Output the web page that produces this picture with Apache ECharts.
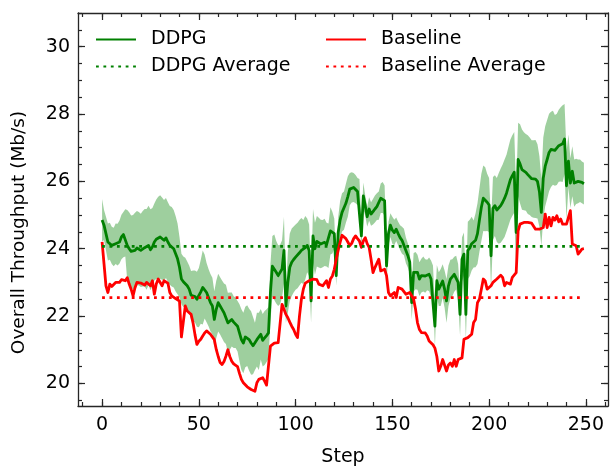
<!DOCTYPE html>
<html><head><meta charset="utf-8">
<script src="https://cdn.jsdelivr.net/npm/echarts@6/dist/echarts.min.js"></script>
<style>html,body{margin:0;padding:0;background:#fff}#c{width:610px;height:472px}</style>
</head><body><div id="c"></div>
<script>
// DDPG mean throughput per step (0..249)
const ddpg = [
24.85,24.7,24.45,24.2,24.22,24.1,24.05,24.15,24.12,24.2,
24.35,24.42,24.47,24.1,24.0,23.92,23.9,23.95,24.02,24.0,
23.95,24.0,24.03,23.98,24.1,23.97,24.05,24.2,24.28,24.32,
24.35,24.3,24.25,24.32,24.2,24.1,24.06,24.0,23.85,23.7,
23.45,23.1,23.02,23.0,22.9,22.8,22.62,22.6,22.58,22.5,
22.55,22.72,22.85,22.88,22.7,22.55,22.4,22.3,21.9,22.2,
22.4,22.3,22.2,22.1,22.05,21.8,21.85,21.9,21.82,21.8,
21.7,21.5,21.3,21.2,21.38,21.42,21.3,21.2,21.12,21.1,
21.3,21.25,21.46,21.28,21.35,21.42,21.5,22.7,23.48,23.45,
23.3,23.2,23.24,23.4,23.95,22.3,23.0,23.45,23.6,23.68,
23.75,23.8,23.88,23.95,23.9,24.03,24.1,23.95,22.45,24.38,
24.0,24.22,24.18,24.14,24.15,24.19,24.12,24.09,24.53,24.48,
24.45,23.2,24.48,24.85,25.08,25.13,25.35,25.55,25.77,25.82,
25.82,25.77,25.7,25.67,24.38,25.57,25.28,24.95,25.18,25.03,
25.1,25.18,25.25,25.28,25.5,25.52,25.43,23.49,24.45,24.7,
24.55,24.48,24.58,24.45,24.33,24.25,24.2,23.95,23.8,23.6,
22.4,23.3,23.35,23.3,23.1,23.2,23.25,23.19,23.22,23.24,
23.1,23.05,21.7,23.05,22.8,22.85,23.04,22.8,22.45,22.9,
23.1,23.14,23.24,23.29,23.0,22.05,23.69,23.84,22.05,23.95,
24.02,24.15,24.14,24.25,24.45,24.85,25.23,25.5,25.47,25.38,
25.3,23.79,25.2,25.28,25.15,25.2,25.28,25.38,25.5,25.65,
25.85,26.05,26.17,26.27,24.48,26.65,26.52,26.35,26.3,26.27,
26.2,26.15,26.08,26.07,26.07,26.0,25.7,25.08,26.1,26.45,
26.65,26.86,26.95,27.0,26.92,26.95,27.06,27.1,27.12,27.26,
25.87,26.6,25.95,26.3,25.95,26.0,26.0,26.02,25.97,25.93
];
// DDPG spread (half-width of shaded band) per step
const ddpgStd = [
0.63,0.45,0.5,0.55,0.55,0.55,0.57,0.6,0.62,0.64,
0.66,0.67,0.7,1.05,1.08,1.07,1.1,1.12,1.1,1.09,
1.09,1.12,1.15,1.2,1.18,1.2,1.16,1.14,1.18,1.22,
1.24,1.22,1.2,1.19,1.18,1.17,1.18,1.15,1.12,1.05,
0.9,0.75,0.75,0.73,0.72,0.7,0.72,0.75,0.77,0.82,
0.88,0.95,1.1,0.95,0.88,0.85,0.85,0.84,0.84,0.85,
0.86,0.85,0.86,0.87,0.88,0.89,0.85,0.8,0.77,0.75,
0.75,0.85,0.9,0.9,0.9,0.9,0.92,0.94,0.85,0.7,
0.8,0.85,0.75,0.78,0.8,0.78,0.77,0.85,0.9,0.97,
0.93,0.9,0.88,0.85,1.0,0.5,0.9,1.0,1.0,0.98,
0.97,0.97,0.97,0.96,0.95,0.94,0.8,0.77,0.65,0.8,
0.77,0.75,0.74,0.72,0.7,0.7,0.65,0.66,0.7,0.62,
0.45,0.3,0.45,0.57,0.57,0.57,0.58,0.6,0.48,0.45,
0.43,0.42,0.4,0.4,0.4,0.4,0.3,0.3,0.35,0.35,
0.38,0.4,0.4,0.42,0.44,0.46,0.45,0.6,0.35,0.35,
0.4,0.38,0.35,0.35,0.37,0.4,0.39,0.38,0.36,0.35,
0.5,0.57,0.55,0.52,0.5,0.5,0.52,0.5,0.45,0.5,
0.55,0.45,0.6,0.47,0.5,0.55,0.5,0.55,0.65,0.6,
0.57,0.55,0.52,0.5,0.55,0.64,0.65,0.64,0.75,0.85,
0.84,0.8,0.7,0.8,0.9,0.94,1.0,0.97,0.95,0.85,
0.8,1.0,0.93,0.9,0.95,1.05,1.1,1.12,1.15,1.14,
1.17,1.19,1.2,1.2,1.2,1.09,1.18,1.19,1.16,1.14,
1.17,1.15,1.14,1.15,1.16,1.1,1.05,1.0,1.2,1.19,
1.17,1.15,1.12,1.1,1.05,1.06,1.07,1.1,1.14,1.04,
1.0,0.79,0.74,0.74,0.7,0.67,0.65,0.63,0.62,0.62
];
// Baseline throughput per step
const baseline = [
24.2,23.55,22.9,22.7,22.95,22.88,22.92,23.0,22.95,23.0,
23.08,23.12,23.05,23.14,22.95,22.8,22.6,22.84,23.0,22.95,
22.98,23.02,22.92,23.0,22.95,22.9,23.05,22.65,22.95,23.1,
23.05,22.9,23.05,23.1,22.98,22.7,22.6,22.55,22.52,22.5,
22.45,21.38,21.36,22.3,22.15,22.2,22.05,21.8,21.45,21.16,
21.25,21.31,21.41,21.5,21.56,21.51,21.46,21.5,21.3,21.01,
20.8,20.62,20.56,20.65,20.81,21.0,20.8,20.66,20.58,20.56,
20.5,20.3,20.12,20.02,19.97,19.9,19.87,19.82,19.8,19.77,
20.02,20.12,20.07,20.17,20.07,19.95,19.92,21.11,21.16,21.2,
21.16,21.21,21.26,22.35,22.2,22.05,21.95,21.82,21.7,21.6,
21.46,21.36,22.0,22.5,22.8,22.98,23.0,23.05,23.08,23.1,
23.05,23.08,22.95,23.0,22.9,22.95,23.05,22.85,23.1,23.19,
23.39,23.69,23.95,24.19,24.4,24.36,24.3,24.2,24.09,24.16,
24.3,24.38,24.3,24.23,24.04,24.23,24.33,24.15,24.04,23.69,
23.29,23.44,23.39,23.69,23.34,23.38,23.39,23.2,22.7,22.6,
22.55,22.7,22.55,22.85,22.9,22.8,22.75,22.65,22.6,22.7,
22.65,22.5,22.2,21.8,21.6,21.51,21.56,21.5,21.41,21.26,
21.21,21.15,21.05,20.8,20.37,20.51,20.71,20.76,20.37,20.55,
20.61,20.51,20.71,20.51,20.71,20.72,20.76,21.31,21.26,21.36,
21.4,21.46,21.81,21.9,22.4,22.5,22.8,23.1,23.04,22.8,
22.85,22.9,23.0,22.95,23.1,23.15,23.21,23.15,22.9,23.0,
22.98,22.95,23.15,23.2,23.29,24.53,24.73,24.78,24.78,24.78,
24.78,24.78,24.76,24.75,24.58,24.58,24.58,24.58,24.63,25.03,
24.63,24.93,24.68,24.93,24.85,24.98,24.8,24.88,24.73,24.78,
24.73,24.73,25.13,24.14,24.19,24.09,23.84,23.89,23.99,24.0
];
const ddpgAvg = 24.07;
const baselineAvg = 22.55;
const xMajorTicks = [0, 50, 100, 150, 200, 250];
const xMinorTicks = [-10,0,10,20,30,40,50,60,70,80,90,100,110,120,130,140,150,160,170,180,190,200,210,220,230,240,250,260];
const yMajorTicks = [20, 22, 24, 26, 28, 30];
const yMinorTicks = [19.5,20,20.5,21,21.5,22,22.5,23,23.5,24,24.5,25,25.5,26,26.5,27,27.5,28,28.5,29,29.5,30,30.5,31];

const FONT = 'DejaVu Sans';
const FS = 19;
const X_MIN = -12.45, X_MAX = 261.45, Y_MIN = 19.33, Y_MAX = 31;
const AX = '#262626';
const steps = ddpg.map((_, i) => i);
const lastStep = steps[steps.length - 1];

function xAx(pos, ticks, len, main) {
  return {
    type: 'value', min: X_MIN, max: X_MAX, position: pos,
    axisLine: { show: main, onZero: false, lineStyle: { color: AX, width: 1.3 } },
    axisTick: { show: true, inside: true, length: len, customValues: ticks, lineStyle: { color: AX, width: 1.2 } },
    axisLabel: (main && pos === 'bottom') ? { show: true, customValues: ticks, margin: 10, fontSize: FS, color: '#000', fontFamily: FONT } : { show: false },
    splitLine: { show: false },
    name: (main && pos === 'bottom') ? 'Step' : '',
    nameLocation: 'middle', nameGap: 42,
    nameTextStyle: { fontSize: FS, color: '#000', fontFamily: FONT }
  };
}
function yAx(pos, ticks, len, main) {
  return {
    type: 'value', min: Y_MIN, max: Y_MAX, position: pos,
    axisLine: { show: main, onZero: false, lineStyle: { color: AX, width: 1.3 } },
    axisTick: { show: true, inside: true, length: len, customValues: ticks, lineStyle: { color: AX, width: 1.2 } },
    axisLabel: (main && pos === 'left') ? { show: true, customValues: ticks, margin: 8, fontSize: FS, color: '#000', fontFamily: FONT } : { show: false },
    splitLine: { show: false },
    name: (main && pos === 'left') ? 'Overall Throughput (Mb/s)' : '',
    nameLocation: 'middle', nameGap: 49, nameRotate: 90,
    nameTextStyle: { fontSize: 18.5, color: '#000', fontFamily: FONT, padding: [0, 46, 0, 0] }
  };
}

const LW = 2.8;
const dotted = [LW, LW * 1.65];
function legendAt(name, left, top) {
  return {
    data: [name], left: left, top: top, padding: 0, itemWidth: 40, itemHeight: 14,
    itemStyle: { opacity: 0 },
    textStyle: { fontSize: FS, color: '#000', fontFamily: FONT, padding: [0, 0, 0, 10] },
    selectedMode: false
  };
}

const option = {
  animation: false,
  backgroundColor: '#fff',
  grid: { left: 78, right: 2, top: 13, bottom: 65, containLabel: false },
  xAxis: [xAx('bottom', xMajorTicks, 7, true), xAx('bottom', xMinorTicks, 4, false), xAx('top', xMajorTicks, 7, true), xAx('top', xMinorTicks, 4, false)],
  yAxis: [yAx('left', yMajorTicks, 7, true), yAx('left', yMinorTicks, 4, false), yAx('right', yMajorTicks, 7, true), yAx('right', yMinorTicks, 4, false)],
  legend: [
    legendAt('DDPG', 95, 30), legendAt('Baseline', 325, 30),
    legendAt('DDPG Average', 95, 57), legendAt('Baseline Average', 325, 57)
  ],
  series: [
    { type: 'custom', name: 'band', silent: true, z: 1,
      data: steps.map(i => [i, ddpg[i] - ddpgStd[i], ddpg[i] + ddpgStd[i]]),
      encode: { x: 0, y: [1, 2] },
      renderItem: function (params, api) {
        if (params.dataIndex !== 0) return null;
        const pts = [];
        for (let k = 0; k < steps.length; k++) pts.push(api.coord([steps[k], ddpg[k] + ddpgStd[k]]));
        for (let k = steps.length - 1; k >= 0; k--) pts.push(api.coord([steps[k], ddpg[k] - ddpgStd[k]]));
        return { type: 'polygon', shape: { points: pts }, style: { fill: 'rgba(0,128,0,0.38)', stroke: null } };
      }
    },
    { type: 'line', name: 'DDPG', data: steps.map(i => [i, ddpg[i]]), symbol: 'none', color: '#008000',
      lineStyle: { color: '#008000', width: LW, join: 'round' }, z: 3 },
    { type: 'line', name: 'Baseline', data: steps.map(i => [i, baseline[i]]), symbol: 'none', color: '#ff0000',
      lineStyle: { color: '#ff0000', width: LW, join: 'round' }, z: 3 },
    { type: 'line', name: 'DDPG Average', data: [[0, ddpgAvg], [lastStep, ddpgAvg]], symbol: 'none', color: '#008000',
      lineStyle: { color: '#008000', width: LW, type: dotted }, z: 4 },
    { type: 'line', name: 'Baseline Average', data: [[0, baselineAvg], [lastStep, baselineAvg]], symbol: 'none', color: '#ff0000',
      lineStyle: { color: '#ff0000', width: LW, type: dotted }, z: 4 }
  ]
};
const chart = echarts.init(document.getElementById('c'), null, { renderer: 'canvas' });
chart.setOption(option);
</script></body></html>
